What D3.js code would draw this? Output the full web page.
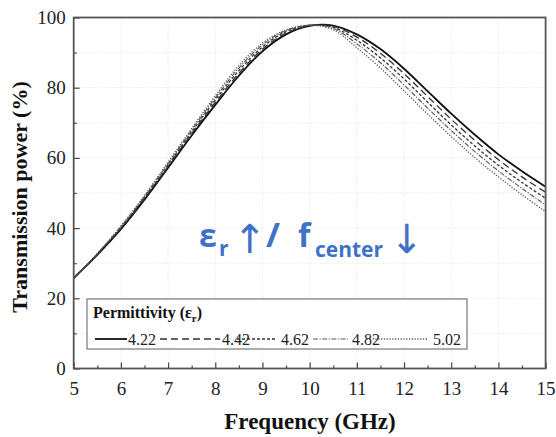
<!DOCTYPE html>
<html><head><meta charset="utf-8">
<script src="https://cdn.jsdelivr.net/npm/d3@7"></script>
<style>body{margin:0;background:#fff}svg{display:block}</style>
</head><body><svg id="c" width="556" height="437"></svg>
<script>
const freq = [5,5.5,6,6.5,7,7.5,8,8.5,9,9.5,10,10.5,11,11.5,12,12.5,13,13.5,14,14.5,15];
const er422 = [25.8,32.4,39.7,48.1,57.2,66.4,75.1,83.4,90.4,95.2,97.6,97.7,95.2,91.0,85.4,79.0,72.6,66.6,61.0,56.2,51.8];
const er442 = [25.7,32.5,39.9,48.4,57.6,66.9,75.8,84.1,91.0,95.6,97.7,97.5,94.4,89.8,84.0,77.5,71.0,65.0,59.5,54.6,50.2];
const er462 = [25.7,32.6,40.1,48.7,58.0,67.4,76.5,84.9,91.6,96.0,97.8,97.2,93.5,88.5,82.5,75.9,69.4,63.4,57.9,53.0,48.5];
const er482 = [25.6,32.7,40.4,49.0,58.4,67.9,77.1,85.6,92.2,96.3,97.8,96.9,92.5,87.1,80.8,74.2,67.8,61.8,56.3,51.3,46.6];
const er502 = [25.6,32.8,40.6,49.3,58.8,68.4,77.7,86.3,92.7,96.5,97.8,96.5,91.4,85.6,79.1,72.5,66.1,60.1,54.6,49.5,44.7];
const seriesNames = ["4.22","4.42","4.62","4.82","5.02"];
const seriesVals = [er422,er442,er462,er482,er502];
const xTicks = [5,6,7,8,9,10,11,12,13,14,15];
const yTicks = [0,20,40,60,80,100];

const styles = [
  {dash:null, w:1.8, c:"#111"},
  {dash:"7,4", w:1.3, c:"#333"},
  {dash:"3,2", w:1.3, c:"#333"},
  {dash:"5,1.5,1.2,1.5", w:1.1, c:"#555"},
  {dash:"1.2,1.6", w:1.3, c:"#555"}
];

const svg = d3.select("#c");
const L=73.7, R=545.6, T=17.5, B=368.5;
const x = d3.scaleLinear().domain([5,15]).range([L,R]);
const y = d3.scaleLinear().domain([0,100]).range([B,T]);

// grid
const g = svg.append("g");
g.selectAll(".gx").data(d3.range(6,15)).join("line")
  .attr("x1",d=>x(d)).attr("x2",d=>x(d)).attr("y1",T).attr("y2",B)
  .attr("stroke","#d8d8d8").attr("stroke-dasharray","1,2").attr("stroke-width",0.8);
g.selectAll(".gy").data(d3.range(10,100,10)).join("line")
  .attr("y1",d=>y(d)).attr("y2",d=>y(d)).attr("x1",L).attr("x2",R)
  .attr("stroke","#d8d8d8").attr("stroke-dasharray","1,2").attr("stroke-width",0.8);

// curves
const line = d3.line().x(d=>x(d[0])).y(d=>y(d[1])).curve(d3.curveCatmullRom.alpha(0.5));
seriesVals.forEach((vals,i)=>{
  svg.append("path").datum(freq.map((f,j)=>[f,vals[j]]))
    .attr("d",line).attr("fill","none").attr("stroke",styles[i].c)
    .attr("stroke-width",styles[i].w).attr("stroke-dasharray",styles[i].dash);
});

// axes
const font = "'Liberation Serif','Times New Roman',serif";
const xAx = svg.append("g").attr("transform",`translate(0,${B})`)
  .call(d3.axisBottom(x).tickValues(xTicks).tickSize(-6).tickPadding(13).tickFormat(d3.format("d")));
const xMin = svg.append("g").attr("transform",`translate(0,${B})`)
  .call(d3.axisBottom(x).tickValues(d3.range(5.5,15,1)).tickSize(-3).tickFormat(""));
const yAx = svg.append("g").attr("transform",`translate(${L},0)`)
  .call(d3.axisLeft(y).tickValues(yTicks).tickSize(-6).tickPadding(8));
const yMin = svg.append("g").attr("transform",`translate(${L},0)`)
  .call(d3.axisLeft(y).tickValues(d3.range(10,100,20)).tickSize(-3).tickFormat(""));
[xAx,xMin,yAx,yMin].forEach(a=>{
  a.attr("font-family",font).attr("font-size",19);
  a.select(".domain").remove();
  a.selectAll("line").attr("stroke","#444").attr("stroke-width",1.2);
  a.selectAll("text").attr("font-family",font).attr("font-size",19).attr("fill","#222");
});
// frame
svg.append("rect").attr("x",L).attr("y",T).attr("width",R-L).attr("height",B-T)
  .attr("fill","none").attr("stroke","#555").attr("stroke-width",1.8);

// axis titles
svg.append("text").attr("x",310).attr("y",429).attr("text-anchor","middle")
  .attr("font-family",font).attr("font-weight","bold").attr("font-size",23).attr("fill","#111")
  .text("Frequency (GHz)");
svg.append("text").attr("transform",`translate(27,197) rotate(-90)`).attr("text-anchor","middle")
  .attr("font-family",font).attr("font-weight","bold").attr("font-size",22).attr("fill","#111")
  .text("Transmission power (%)");

// legend
const lg = svg.append("g");
lg.append("rect").attr("x",87).attr("y",299).attr("width",380).attr("height",50)
  .attr("fill","#fff").attr("stroke","#777").attr("stroke-width",1.2);
const lt = lg.append("text").attr("x",93).attr("y",318).attr("font-family",font)
  .attr("font-weight","bold").attr("font-size",16).attr("fill","#111");
lt.append("tspan").text("Permittivity (ε");
lt.append("tspan").attr("font-size",11).attr("dy",4).text("r");
lt.append("tspan").attr("dy",-4).text(")");
const sx = [[95,127],[160,220],[237,276],[313,348],[367,428]];
const tx = [127,221,280,351,432];
seriesNames.forEach((n,i)=>{
  lg.append("line").attr("x1",sx[i][0]).attr("x2",sx[i][1]).attr("y1",339).attr("y2",339)
    .attr("stroke",styles[i].c).attr("stroke-width",styles[i].w).attr("stroke-dasharray",styles[i].dash);
  lg.append("text").attr("x",tx[i]+1).attr("y",345).attr("font-family",font)
    .attr("font-size",16).attr("fill","#222").text(n);
});

// annotation
const blue = "#3f72c6", af = "'Open Sans',sans-serif", arf = "'DejaVu Sans',sans-serif";
const piece = (t,xx,yy,fs,ff,fw)=>svg.append("text").attr("x",xx).attr("y",yy).attr("font-family",ff)
  .attr("font-weight",fw||"bold").attr("font-size",fs).attr("fill",blue).text(t);
piece("ε",199,247,32,af);
piece("r",219,256,21,af);
piece("↑",233,253,40,arf,"normal");
piece("/",266,247,34,af);
piece("f",298,247,32,af);
piece("center",315,257,21,af);
piece("↓",390,253,40,arf,"normal");
</script></body></html>
